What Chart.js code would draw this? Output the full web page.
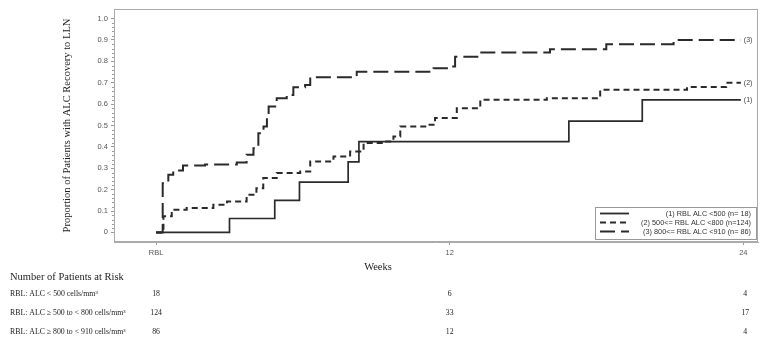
<!DOCTYPE html>
<html>
<head>
<meta charset="utf-8">
<script src="https://cdn.jsdelivr.net/npm/chart.js@4.4.0/dist/chart.umd.min.js"></script>
<style>
  html, body { margin: 0; padding: 0; background: #fff; }
</style>
</head>
<body>
<canvas id="km-chart" width="768" height="342"></canvas>
<script>
// axis ticks
var weekTicks = [0, 12, 24];
var weekTickLabels = ['RBL', '12', '24'];
var propTicks = [0, 0.1, 0.2, 0.3, 0.4, 0.5, 0.6, 0.7, 0.8, 0.9, 1.0];

// Kaplan-Meier steps: week of event, cumulative proportion recovered
var g1Weeks = [0, 3.0, 4.85, 5.86, 7.85, 8.29, 16.87, 19.87, 23.9];
var g1Prop  = [0, 0.065, 0.15, 0.235, 0.33, 0.425, 0.52, 0.62, 0.62];

var g2Weeks = [0, 0.3, 0.64, 1.25, 2.34, 2.9, 3.7, 4.1, 4.38, 4.93, 5.89, 6.3, 7.25, 7.93, 8.48, 9.3, 9.7, 9.98, 11.07, 11.4, 12.29, 13.25, 15.97, 18.15, 21.7, 23.3, 23.9];
var g2Prop  = [0, 0.075, 0.106, 0.114, 0.129, 0.145, 0.176, 0.207, 0.254, 0.278, 0.285, 0.332, 0.355, 0.378, 0.418, 0.425, 0.449, 0.495, 0.503, 0.535, 0.581, 0.62, 0.628, 0.667, 0.68, 0.70, 0.70];

var g3Weeks = [0, 0.27, 0.5, 0.7, 1.1, 2.0, 3.3, 3.7, 3.98, 4.18, 4.39, 4.53, 4.6, 4.93, 5.34, 5.61, 6.09, 6.3, 8.2, 11.34, 12.0, 12.22, 13.25, 16.1, 18.4, 21.15, 23.9];
var g3Prop  = [0, 0.23, 0.27, 0.29, 0.313, 0.318, 0.327, 0.363, 0.394, 0.464, 0.495, 0.542, 0.589, 0.628, 0.643, 0.679, 0.69, 0.726, 0.752, 0.768, 0.776, 0.822, 0.841, 0.857, 0.88, 0.90, 0.90];

var groupNames = ['(1) RBL ALC <500 (n= 18)', '(2) 500<= RBL ALC <800 (n=124)', '(3) 800<= RBL ALC <910 (n= 86)'];
var endTags = ['(1)', '(2)', '(3)'];

// number at risk table
var riskRowLabels = ['RBL: ALC < 500 cells/mm\u00b3', 'RBL: ALC \u2265 500 to < 800 cells/mm\u00b3', 'RBL: ALC \u2265 800 to < 910 cells/mm\u00b3'];
var riskWeeks = [0, 12, 24];
var riskG1 = [18, 6, 4];
var riskG2 = [124, 33, 17];
var riskG3 = [86, 12, 4];

function toPoints(xs, ys) {
  return xs.map(function(x, i) { return {x: x, y: ys[i]}; });
}

var lineColor = '#2a2a2a';
var dashes = [[], [6, 4], [15, 6]];

var kmExtras = {
  id: 'kmExtras',
  afterDraw: function(chart) {
    var ctx = chart.ctx;
    var a = chart.chartArea;
    var xs = chart.scales.x, ys = chart.scales.y;
    ctx.save();

    // frame
    ctx.strokeStyle = '#aaa';
    ctx.lineWidth = 1;
    ctx.strokeRect(a.left + 0.5, a.top + 0.5, a.right - a.left - 1, a.bottom - a.top - 1);

    // minor ticks on y
    ctx.strokeStyle = '#999';
    ctx.beginPath();
    for (var k = 0; k <= 50; k++) {
      if (k % 5 === 0) continue;
      var py = Math.round(ys.getPixelForValue(k * 0.02)) + 0.5;
      ctx.moveTo(a.left - 2, py);
      ctx.lineTo(a.left, py);
    }
    ctx.stroke();

    // axis titles
    ctx.fillStyle = '#222';
    ctx.font = '10.5px "Liberation Serif"';
    ctx.textAlign = 'center';
    ctx.textBaseline = 'middle';
    ctx.save();
    ctx.translate(67, (a.top + a.bottom) / 2);
    ctx.rotate(-Math.PI / 2);
    ctx.fillText('Proportion of Patients with ALC Recovery to LLN', 0, 0);
    ctx.restore();
    ctx.font = '10.5px "Liberation Serif"';
    ctx.fillText('Weeks', 378, 267);

    // curve end tags
    ctx.font = '7px "Liberation Sans"';
    ctx.fillStyle = '#444';
    ctx.textAlign = 'left';
    chart.data.datasets.forEach(function(ds, i) {
      var last = ds.data[ds.data.length - 1];
      ctx.fillText(endTags[i], xs.getPixelForValue(last.x) + 3, ys.getPixelForValue(last.y));
    });

    // legend box
    var lx = 595, ly = 207, lw = 161, lh = 32;
    ctx.fillStyle = '#fff';
    ctx.fillRect(lx, ly, lw, lh);
    ctx.strokeStyle = '#999';
    ctx.strokeRect(lx + 0.5, ly + 0.5, lw, lh);
    ctx.font = '7.3px "Liberation Sans"';
    groupNames.forEach(function(name, i) {
      var ry = ly + 6.5 + i * 9;
      ctx.strokeStyle = lineColor;
      ctx.lineWidth = 1.8;
      ctx.setLineDash(dashes[i]);
      ctx.beginPath();
      ctx.moveTo(lx + 5, ry);
      ctx.lineTo(lx + 34, ry);
      ctx.stroke();
      ctx.setLineDash([]);
      ctx.fillStyle = '#333';
      ctx.textAlign = 'right';
      ctx.fillText(name, lx + lw - 5, ry);
    });

    // number at risk
    ctx.fillStyle = '#222';
    ctx.textAlign = 'left';
    ctx.font = '10.5px "Liberation Serif"';
    ctx.fillText('Number of Patients at Risk', 10, 277);
    ctx.font = '7.8px "Liberation Serif"';
    var rows = [riskG1, riskG2, riskG3];
    rows.forEach(function(counts, r) {
      var ry = 294 + r * 19;
      ctx.textAlign = 'left';
      ctx.fillText(riskRowLabels[r], 10, ry);
      ctx.textAlign = 'center';
      counts.forEach(function(n, j) {
        ctx.fillText(String(n), xs.getPixelForValue(riskWeeks[j]) + (j === 2 ? 2 : 0), ry);
      });
    });
    ctx.restore();
  }
};

var datasets = [
  toPoints(g1Weeks, g1Prop),
  toPoints(g2Weeks, g2Prop),
  toPoints(g3Weeks, g3Prop)
].map(function(pts, i) {
  return {
    label: groupNames[i],
    data: pts,
    borderColor: lineColor,
    borderWidth: i === 0 ? 1.7 : 2,
    borderDash: dashes[i],
    stepped: 'before',
    pointRadius: 0,
    fill: false
  };
});

var tickFont = {family: '"Liberation Sans"', size: 7.5};

new Chart(document.getElementById('km-chart').getContext('2d'), {
  type: 'line',
  data: {datasets: datasets},
  plugins: [kmExtras],
  options: {
    responsive: false,
    animation: false,
    devicePixelRatio: 1,
    layout: {padding: {top: 9, right: 10, left: 0, bottom: 0}},
    plugins: {legend: {display: false}, tooltip: {enabled: false}},
    scales: {
      x: {
        type: 'linear',
        min: -1.72,
        max: 24.6,
        afterBuildTicks: function(s) { s.ticks = weekTicks.map(function(v) { return {value: v}; }); },
        afterFit: function(s) { s.height = 100; },
        ticks: {
          callback: function(v) { return weekTickLabels[weekTicks.indexOf(v)]; },
          font: tickFont, color: '#555', padding: 3, maxRotation: 0, autoSkip: false
        },
        grid: {drawOnChartArea: false, tickLength: 3, color: '#999'},
        border: {color: '#aaa'}
      },
      y: {
        type: 'linear',
        min: -0.045,
        max: 1.045,
        afterBuildTicks: function(s) { s.ticks = propTicks.map(function(v) { return {value: v}; }); },
        afterFit: function(s) { s.width = 114; },
        ticks: {
          callback: function(v) { return v === 0 ? '0' : v.toFixed(1); },
          font: tickFont, color: '#555', padding: 3, autoSkip: false
        },
        grid: {drawOnChartArea: false, tickLength: 3, color: '#999'},
        border: {color: '#aaa'}
      }
    }
  }
});
</script>
</body>
</html>
